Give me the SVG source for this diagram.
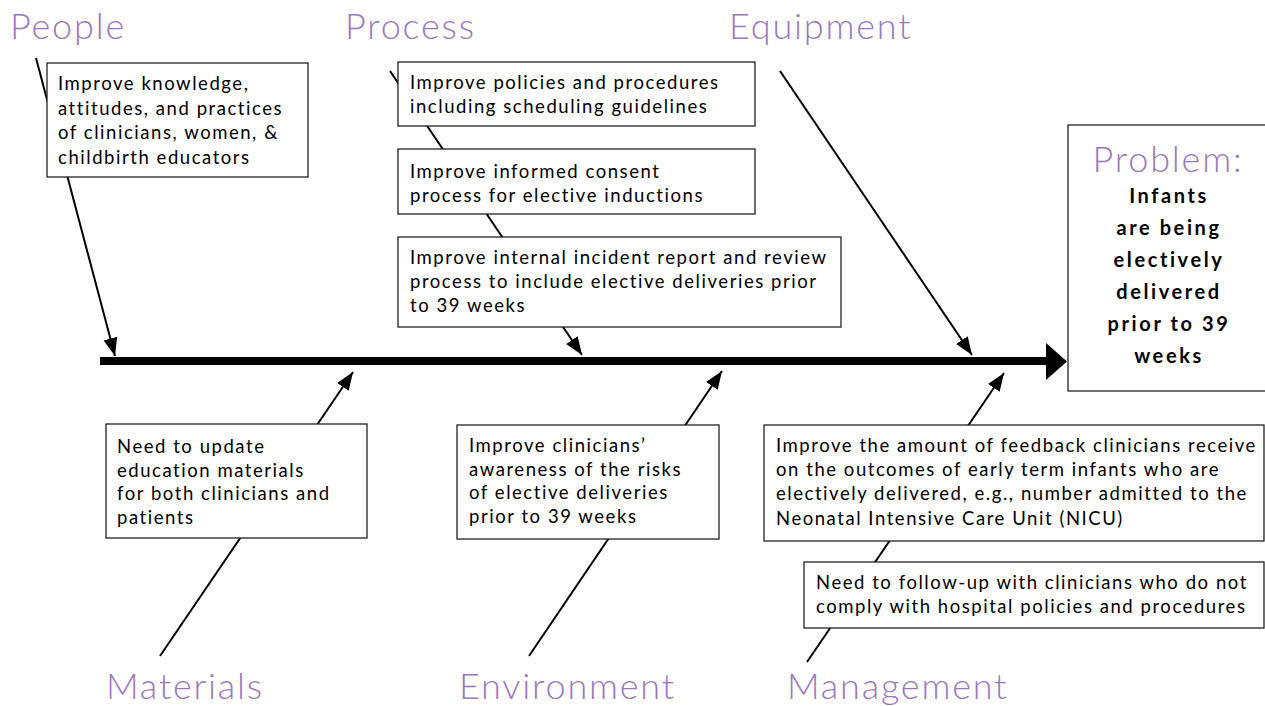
<svg xmlns="http://www.w3.org/2000/svg" width="1265" height="706" viewBox="0 0 1265 706">
<style>
.cat{font-family:Lato,"Liberation Sans",sans-serif;font-weight:300;font-size:36px;letter-spacing:1.8px;fill:#9A78BE}
.box{fill:#fff;stroke:#222;stroke-width:1.3}
.t{font-family:Lato,"Liberation Sans",sans-serif;font-size:18.5px;letter-spacing:1.55px;fill:#000}
.b{font-family:Lato,"Liberation Sans",sans-serif;font-size:20px;letter-spacing:2.6px;font-weight:bold;fill:#000;text-anchor:middle}
.bone{stroke:#000;stroke-width:2;fill:none;marker-end:url(#ah)}
</style>
<defs>
<marker id="ah" markerUnits="userSpaceOnUse" markerWidth="20" markerHeight="16" refX="18" refY="7" orient="auto">
<path d="M0,0 L18,7 L0,14 z" fill="#000"/>
</marker>
</defs>
<rect width="1265" height="706" fill="#fff"/>
<g id="connectors">
<line x1="100" y1="361" x2="1047" y2="361" stroke="#000" stroke-width="8"/>
<polygon points="1046,343 1067,361.5 1046,380" fill="#000"/>
<line class="bone" x1="36" y1="58" x2="115" y2="356"/>
<line class="bone" x1="390" y1="71" x2="582" y2="355"/>
<line class="bone" x1="780" y1="71" x2="972" y2="355"/>
<line class="bone" x1="160" y1="656" x2="353" y2="372"/>
<line class="bone" x1="529" y1="656" x2="722" y2="371"/>
<line class="bone" x1="807" y1="662" x2="1004" y2="373"/>
</g>
<g id="label-people"><text class="cat" x="10" y="39">People</text></g>
<g id="label-process"><text class="cat" x="345" y="39">Process</text></g>
<g id="label-equipment"><text class="cat" x="729" y="39">Equipment</text></g>
<g id="label-materials"><text class="cat" x="106" y="699">Materials</text></g>
<g id="label-environment"><text class="cat" x="459" y="699">Environment</text></g>
<g id="label-management"><text class="cat" x="787" y="699">Management</text></g>
<g id="people-1">
<rect class="box" x="47" y="63" width="261" height="114"/>
<text class="t" x="58" y="90"><tspan x="58">Improve knowledge,</tspan><tspan x="58" dy="24.5">attitudes, and practices</tspan><tspan x="58" dy="24.5">of clinicians, women, &amp;</tspan><tspan x="58" dy="24.5">childbirth educators</tspan></text>
</g>
<g id="process-1">
<rect class="box" x="398" y="62" width="357" height="64"/>
<text class="t" x="410" y="89"><tspan x="410">Improve policies and procedures</tspan><tspan x="410" dy="24">including scheduling guidelines</tspan></text>
</g>
<g id="process-2">
<rect class="box" x="398" y="149" width="357" height="65"/>
<text class="t" x="410" y="177.5"><tspan x="410">Improve informed consent</tspan><tspan x="410" dy="24">process for elective inductions</tspan></text>
</g>
<g id="process-3">
<rect class="box" x="398" y="237" width="443" height="90"/>
<text class="t" x="410" y="264"><tspan x="410">Improve internal incident report and review</tspan><tspan x="410" dy="24">process to include elective deliveries prior</tspan><tspan x="410" dy="24">to 39 weeks</tspan></text>
</g>
<g id="problem">
<rect class="box" x="1068" y="125" width="200" height="266"/>
<text class="cat" x="1168" y="172" text-anchor="middle">Problem:</text>
<text class="b" x="1169" y="203"><tspan x="1169">Infants</tspan><tspan x="1169" dy="32">are being</tspan><tspan x="1169" dy="32">electively</tspan><tspan x="1169" dy="32">delivered</tspan><tspan x="1169" dy="32">prior to 39</tspan><tspan x="1169" dy="32">weeks</tspan></text>
</g>
<g id="materials-1">
<rect class="box" x="106" y="424" width="261" height="114"/>
<text class="t" x="117" y="453"><tspan x="117">Need to update</tspan><tspan x="117" dy="23.5">education materials</tspan><tspan x="117" dy="23.5">for both clinicians and</tspan><tspan x="117" dy="23.5">patients</tspan></text>
</g>
<g id="environment-1">
<rect class="box" x="457" y="425" width="262" height="114"/>
<text class="t" x="469" y="452"><tspan x="469">Improve clinicians’</tspan><tspan x="469" dy="23.7">awareness of the risks</tspan><tspan x="469" dy="23.7">of elective deliveries</tspan><tspan x="469" dy="23.7">prior to 39 weeks</tspan></text>
</g>
<g id="management-1">
<rect class="box" x="764" y="425" width="500" height="116"/>
<text class="t" x="776" y="452"><tspan x="776">Improve the amount of feedback clinicians receive</tspan><tspan x="776" dy="24.2">on the outcomes of early term infants who are</tspan><tspan x="776" dy="24.2">electively delivered, e.g., number admitted to the</tspan><tspan x="776" dy="24.2">Neonatal Intensive Care Unit (NICU)</tspan></text>
</g>
<g id="management-2">
<rect class="box" x="804" y="562" width="460" height="66"/>
<text class="t" x="816" y="589"><tspan x="816">Need to follow-up with clinicians who do not</tspan><tspan x="816" dy="24">comply with hospital policies and procedures</tspan></text>
</g>
</svg>
